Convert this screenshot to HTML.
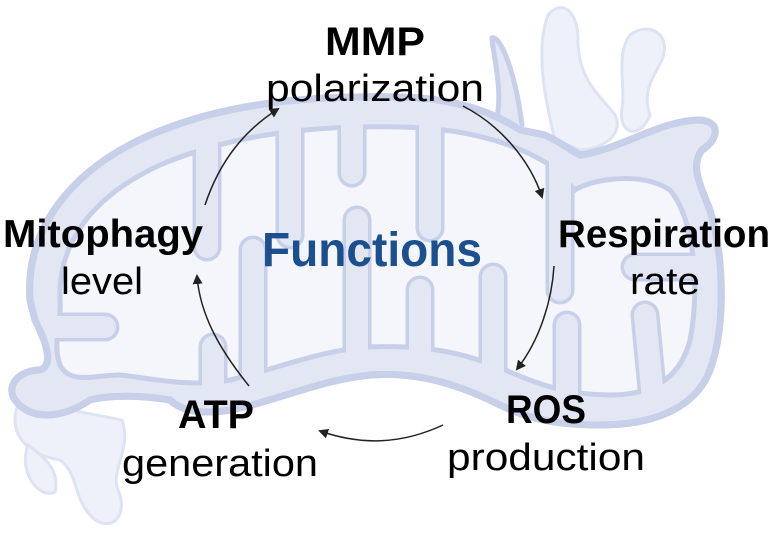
<!DOCTYPE html>
<html><head><meta charset="utf-8"><style>
html,body{margin:0;padding:0;background:#fff;}
svg{display:block;}
text{font-family:"Liberation Sans",sans-serif;}
</style></head><body>
<svg width="771" height="535" viewBox="0 0 771 535" xmlns="http://www.w3.org/2000/svg">
<defs>
<marker id="a" markerWidth="10" markerHeight="10" refX="8" refY="5" orient="auto" markerUnits="userSpaceOnUse"><path d="M0,0 L10,5 L0,10 Z" fill="#222"/></marker>
<clipPath id="m"><path id="inner" d="M60,300 C58,240 95,195 160,165 C230,135 310,125 400,127 C460,128 510,140 550,165 L575,190 C590,180 640,170 670,190 C695,220 700,290 690,340 C680,380 650,395 610,395 C570,395 540,385 510,372 C460,350 420,345 370,347 C320,350 280,368 230,380 C190,388 150,378 120,375 C95,375 70,385 60,365 C52,345 62,320 60,300 Z"/></clipPath>
<clipPath id="o"><path id="outer" d="M30,300 C25,230 70,170 150,135 C220,105 300,95 400,97 C450,98 490,110 520,130 L545,135 C560,142 570,150 580,155 C620,150 660,120 700,120 C722,122 718,140 702,150 C690,165 700,185 710,210 C725,260 725,330 710,370 C695,410 650,425 600,425 C560,425 530,420 500,405 C450,380 410,372 370,375 C320,380 280,400 230,410 C200,415 180,410 170,400 C140,395 110,395 90,400 C60,420 30,420 15,400 C5,385 20,370 40,370 C55,365 45,340 35,320 Z"/></clipPath>
</defs>
<!-- faint splashes -->
<g fill="#eef1f9" stroke="#dde3f2" stroke-width="3">
<path d="M548,15 C560,0 578,8 578,40 C578,80 600,95 615,115 C625,135 600,150 580,150 L555,140 C545,100 535,50 548,15Z"/>
<path d="M630,35 C650,20 672,35 662,60 C652,80 642,92 650,115 C640,140 618,135 622,108 C626,85 615,55 630,35Z"/>
<path d="M20,400 C5,430 25,455 60,460 C80,475 72,500 95,520 C115,532 128,512 118,490 C110,470 132,450 122,420Z"/>
<path d="M28,445 C18,470 38,500 55,492 C60,470 45,458 28,445Z"/>
</g>
<g fill="#e3e7f4" stroke="#c7cfe9" stroke-width="5" stroke-linecap="round">
<path d="M495,125 C505,95 492,50 492,38 C500,35 515,70 522,125" />
</g>
<!-- outer -->
<use href="#outer" fill="#e3e7f4" stroke="#c7cfe9" stroke-width="7"/>
<!-- inner matrix -->
<use href="#inner" fill="#f4f6fb" stroke="#c7cfe9" stroke-width="5"/>
<g fill="none" stroke-linecap="round">
<g stroke="#c7cfe9" stroke-width="29" clip-path="url(#m)">
<path d="M207,100 L207,247"/><path d="M290,100 L290,235"/><path d="M352,100 L352,173"/><path d="M430,100 L430,228"/><path d="M560,150 L560,290"/>
<path d="M213,420 L213,347"/><path d="M253,420 L253,250"/><path d="M357,420 L357,220"/><path d="M420,420 L420,290"/><path d="M493,420 L493,277"/><path d="M567,420 L567,325"/><path d="M655,420 L645,315"/>
<path d="M20,327 L105,327"/><path d="M740,267 L635,267"/>
</g>
<g stroke="#e3e7f4" stroke-width="22" clip-path="url(#o)">
<path d="M207,100 L207,247"/><path d="M290,100 L290,235"/><path d="M352,100 L352,173"/><path d="M430,100 L430,228"/><path d="M560,150 L560,290"/>
<path d="M213,420 L213,347"/><path d="M253,420 L253,250"/><path d="M357,420 L357,220"/><path d="M420,420 L420,290"/><path d="M493,420 L493,277"/><path d="M567,420 L567,325"/><path d="M655,420 L645,315"/>
<path d="M20,327 L105,327"/><path d="M740,267 L635,267"/>
</g>
</g>
<use href="#outer" fill="none" stroke="#c7cfe9" stroke-width="7"/>
<!-- arrows -->
<g fill="none" stroke="#222" stroke-width="1.5" marker-end="url(#a)">
<path d="M205,205 C220,160 245,130 278,109"/>
<path d="M463,106 C500,125 530,160 542,197"/>
<path d="M554,266 C552,300 540,340 517,369"/>
<path d="M443,425 C400,445 360,445 320,431"/>
<path d="M249,386 C220,350 200,315 197,276"/>
</g>
<!-- labels -->
<g fill="#000" text-anchor="middle">
<text x="375" y="55" font-size="40" font-weight="bold" textLength="100" lengthAdjust="spacingAndGlyphs">MMP</text>
<text x="375" y="101" font-size="38" textLength="218" lengthAdjust="spacingAndGlyphs">polarization</text>
<text x="103" y="247" font-size="39" font-weight="bold" textLength="200" lengthAdjust="spacingAndGlyphs">Mitophagy</text>
<text x="102" y="294" font-size="38" textLength="82" lengthAdjust="spacingAndGlyphs">level</text>
<text x="664" y="247" font-size="39" font-weight="bold" textLength="212" lengthAdjust="spacingAndGlyphs">Respiration</text>
<text x="665" y="294" font-size="38" textLength="70" lengthAdjust="spacingAndGlyphs">rate</text>
<text x="546" y="423" font-size="40" font-weight="bold" textLength="80" lengthAdjust="spacingAndGlyphs">ROS</text>
<text x="546" y="470" font-size="38" textLength="198" lengthAdjust="spacingAndGlyphs">production</text>
<text x="216" y="428" font-size="40" font-weight="bold" textLength="76" lengthAdjust="spacingAndGlyphs">ATP</text>
<text x="220" y="476" font-size="38" textLength="196" lengthAdjust="spacingAndGlyphs">generation</text>
<text x="372" y="266" font-size="48" font-weight="bold" fill="#1b4f8e" textLength="220" lengthAdjust="spacingAndGlyphs">Functions</text>
</g>
</svg>
</body></html>
